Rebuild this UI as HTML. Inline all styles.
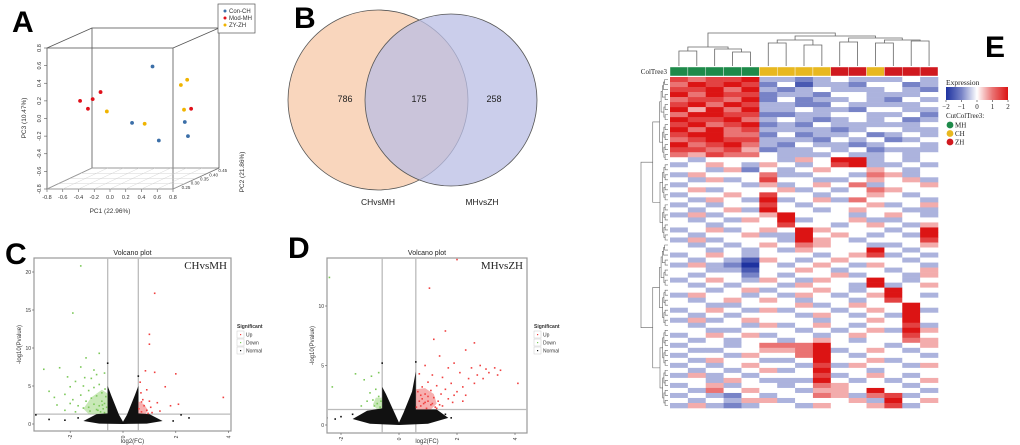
<!DOCTYPE html>
<html><head><meta charset="utf-8"><style>
html,body{margin:0;padding:0;background:#fff;}
svg{display:block;font-family:"Liberation Sans",sans-serif;}
.serif{font-family:"Liberation Serif",serif;}
</style></head><body>
<svg id="fig" width="1020" height="445" viewBox="0 0 1020 445" xmlns="http://www.w3.org/2000/svg">
<text x="12" y="32" font-size="30" font-weight="bold">A</text>
<text x="294" y="28" font-size="30" font-weight="bold">B</text>
<text x="5" y="264" font-size="30" font-weight="bold">C</text>
<text x="288" y="258" font-size="30" font-weight="bold">D</text>
<text x="985" y="57" font-size="30" font-weight="bold">E</text>

<g id="pca" stroke="#555" stroke-width="0.8" fill="none">
  <rect x="47" y="48" width="126" height="141"/>
  <rect x="92" y="28" width="127" height="140"/>
  <line x1="47" y1="48" x2="92" y2="28"/><line x1="173" y1="48" x2="219" y2="28"/>
  <line x1="47" y1="189" x2="92" y2="168"/><line x1="173" y1="189" x2="219" y2="168"/>
</g>
<g id="pcaAxes" font-size="5.5" fill="#333"></g>
<g id="pcaPts"></g>
<text x="110" y="213" font-size="6.5" fill="#333" text-anchor="middle">PC1 (22.96%)</text>
<text transform="translate(26,118) rotate(-90)" font-size="6.5" fill="#333" text-anchor="middle">PC3 (10.47%)</text>
<text transform="translate(244,172) rotate(-90)" font-size="6.5" fill="#333" text-anchor="middle">PC2 (21.86%)</text>
<g>
  <rect x="218" y="4" width="37" height="29" fill="#fff" stroke="#555" stroke-width="0.7"/>
  <circle cx="225" cy="11" r="1.5" fill="#3c6fa8"/><text x="229" y="13" font-size="6" fill="#333">Con-CH</text>
  <circle cx="225" cy="18" r="1.5" fill="#e0101a"/><text x="229" y="20" font-size="6" fill="#333">Mod-MH</text>
  <circle cx="225" cy="25" r="1.5" fill="#f0b400"/><text x="229" y="27" font-size="6" fill="#333">ZY-ZH</text>
</g>

<g>
  <circle cx="378" cy="100" r="90" fill="#f8cfb2" fill-opacity="0.85" stroke="#555" stroke-width="0.8"/>
  <circle cx="451" cy="100" r="86" fill="#b9bde4" fill-opacity="0.75" stroke="#555" stroke-width="0.8"/>
  <text x="345" y="102" font-size="9" text-anchor="middle" fill="#222">786</text>
  <text x="419" y="102" font-size="9" text-anchor="middle" fill="#222">175</text>
  <text x="494" y="102" font-size="9" text-anchor="middle" fill="#222">258</text>
  <text x="378" y="205" font-size="8.5" text-anchor="middle" fill="#222">CHvsMH</text>
  <text x="482" y="205" font-size="8.5" text-anchor="middle" fill="#222">MHvsZH</text>
</g>

<g id="volC"></g>
<g id="volD"></g>
<g id="heat"></g>
</svg>
<script>
const pcaBlueX=[0.54,0.28,0.62,0.95,0.99];
const pcaBlueY=[0.59,-0.05,-0.25,-0.04,-0.20];
const pcaRedX=[-0.38,-0.28,-0.22,-0.12,1.03];
const pcaRedY=[0.20,0.11,0.22,0.30,0.11];
const pcaYelX=[-0.04,0.44,0.98,0.90,0.94];
const pcaYelY=[0.08,-0.06,0.44,0.38,0.10];
const pcaYTicks=["0.8","0.6","0.4","0.2","0.0","-0.2","-0.4","-0.6","-0.8"];
const pcaXTicks=["-0.8","-0.6","-0.4","-0.2","0.0","0.2","0.4","0.6","0.8"];
const pcaZTicks=["0.25","0.30","0.35","0.40","0.45"];

const cDownX=[-3.0,-2.8,-2.6,-2.4,-2.2,-2.0,-2.0,-1.9,-1.8,-1.7,-1.6,-1.6,-1.5,-1.5,-1.4,-1.4,-1.3,-1.3,-1.2,-1.2,-1.1,-1.1,-1.0,-1.0,-1.0,-0.9,-0.9,-0.9,-0.85,-0.8,-0.8,-0.75,-0.7,-0.7,-0.7,-0.65,-0.62,-2.2,-1.8,-2.5,-1.9,-1.6,-1.1,-0.95,-1.25,-0.78,-0.68,-1.45,-2.1];
const cDownY=[7.2,4.3,3.5,7.4,3.9,2.7,4.9,3.2,5.6,2.4,7.5,3.8,2.1,5.0,8.7,3.0,4.4,2.2,6.0,3.4,2.6,4.8,1.9,3.7,6.5,9.3,2.4,5.2,1.6,3.0,4.1,2.0,6.7,2.7,1.5,3.6,2.2,1.8,1.6,2.5,14.6,20.8,7.1,1.8,1.7,2.5,4.6,6.1,6.2];
const cUpX=[0.6,0.65,0.7,0.75,0.8,0.85,0.9,0.9,1.0,1.0,1.0,1.05,1.1,1.2,1.2,1.3,1.4,1.6,1.8,2.0,2.1,0.7,0.95,0.68,3.8];
const cUpY=[2.0,5.5,1.6,3.2,2.4,7.0,1.8,4.5,3.0,10.5,11.8,2.2,1.5,6.8,17.2,2.8,1.7,4.9,2.4,6.6,2.6,2.9,1.4,4.1,3.5];
const cNormX=[-3.3,-2.2,-1.7,2.5,2.2,-0.58,0.58,-2.8,1.9];
const cNormY=[1.2,0.5,0.8,0.8,1.2,8.0,6.3,0.6,0.4];
const cEnvX=[-1.5,-1.0,-0.58,-0.58,-0.45,-0.15,0,0.15,0.45,0.58,0.58,1.0,1.5,0.9,0,-0.9];
const cEnvY=[0.4,1.3,1.4,5.0,3.8,1.2,0.3,1.2,3.8,5.0,1.4,1.3,0.4,0.05,0,0.05];
const cGreenEnvX=[-0.58,-0.58,-0.8,-1.2,-1.5,-1.3];
const cGreenEnvY=[1.3,4.0,4.5,3.5,2.0,1.3];
const cRedEnvX=[0.58,0.58,0.8,0.95,0.85];
const cRedEnvY=[1.3,3.0,2.6,1.8,1.3];
const cXTicks=[-2,0,2,4];
const cYTicks=[0,5,10,15,20];

const dDownX=[-2.4,-2.3,-1.5,-1.2,-1.0,-0.9,-0.85,-0.8,-0.75,-0.7,-0.65,-0.62,-1.1,-0.95,-1.3,-0.7];
const dDownY=[12.4,3.2,4.3,3.8,2.7,2.1,1.6,3.0,1.8,2.4,1.5,2.0,2.0,4.1,1.6,4.4];
const dUpX=[0.6,0.65,0.7,0.7,0.75,0.8,0.8,0.85,0.9,0.9,0.95,1.0,1.0,1.05,1.1,1.1,1.15,1.2,1.2,1.25,1.3,1.35,1.4,1.45,1.5,1.5,1.6,1.6,1.7,1.7,1.8,1.85,1.9,2.0,2.0,2.1,2.2,2.3,2.3,2.4,2.5,2.6,2.6,2.7,2.8,2.9,3.0,3.1,3.3,3.4,3.5,4.1,1.3,0.9,1.0,1.15,0.75,1.4,2.2,1.9];
const dUpY=[1.5,2.8,2.0,4.3,1.6,3.2,2.2,1.8,2.6,5.0,1.4,3.6,2.0,11.5,1.7,2.9,4.2,2.3,7.2,1.5,3.3,2.0,5.8,2.6,4.0,1.6,3.0,7.9,2.2,4.8,3.5,1.9,5.2,13.9,2.8,4.4,3.2,6.3,2.5,3.9,4.8,3.5,6.9,4.2,5.0,3.9,4.7,4.4,4.8,4.2,4.6,3.5,1.4,1.9,2.4,1.8,2.5,1.7,2.0,2.5];
const dNormX=[-2.5,-2.0,-1.6,-0.58,1.8,1.6,0.58,-2.2];
const dNormY=[0.6,0.7,0.9,5.2,0.6,0.9,5.3,0.5];
const dEnvX=[-1.6,-1.1,-0.58,-0.58,-0.45,-0.15,0,0.15,0.45,0.58,0.58,1.3,1.7,1.0,0,-1.0];
const dEnvY=[0.5,1.2,1.4,3.2,2.6,1.0,0.2,1.0,2.8,4.5,1.3,1.3,0.6,0.1,0,0.1];
const dGreenEnvX=[-0.58,-0.58,-0.8,-0.9,-0.75];
const dGreenEnvY=[1.3,2.3,2.3,1.7,1.3];
const dRedEnvX=[0.58,0.58,0.9,1.2,1.3,1.1];
const dRedEnvY=[1.3,3.0,3.1,2.6,1.8,1.3];
const dXTicks=[-2,0,2,4];
const dYTicks=[0,5,10];

const heatRows=[
"767783323433343","687872413324423","778683234333432","868772332443334","677682423343243",
"786873322433334","858683343324433","688772233443342","877863432343423","786782324333334",
"868673333234433","788662423342343","678773332434234","867863243323443","776752334342333",
"657664333433434","434444354883434","345435434783343","443524345445434","354446334436534",
"435347443345453","344435345463445","453444534346544","344547443445434","435438345364443",
"343447434445345","434538443454433","353445844434543","434354834453344","443444744345435",
"345345485444348","434453384543438","353444385434447","434345465443345","443434354448434",
"345434443457343","434315434544434","353204345435443","443314454344345","434424344534435",
"345435435448434","434344354438345","443453445434844","354434354345843","434545434434744",
"443344453454484","345435344345483","434344435434384","353454443445484","434435345434473",
"443344434345385","345453443454474","434344345434465","344346668444345","433445568345434",
"344354468434443","435443348445344","343454437354435","434345348443444","353434447345434",
"443543338434345","345344346544434","436454435548443","343243446536734","434355344453845",
"353234435445734"];
const heatGroups=["MH","MH","MH","MH","MH","CH","CH","CH","CH","ZH","ZH","CH","ZH","ZH","ZH"];
const groupNames=["MH","CH","ZH"];
const colMerges=[[0,1,51],[3,4,52],[2,16,49],[15,17,47],[5,6,43],[7,8,45],[19,20,40],[9,10,42],[11,12,43],[13,14,41],[23,24,40],[22,25,38],[21,26,36],[18,27,33]];
const legendTicks=[-2,-1,0,1,2];

const NS="http://www.w3.org/2000/svg";
function mk(tag,attrs,parent){const e=document.createElementNS(NS,tag);for(const k in attrs)e.setAttribute(k,attrs[k]);parent.appendChild(e);return e;}

(function(){
  const ax=document.getElementById('pcaAxes');
  const px=v=>47+(v+0.8)/1.6*126;
  const py=v=>189-(v+0.8)/1.6*141;
  pcaYTicks.forEach(t=>{const v=parseFloat(t);const y=py(v);
    mk('line',{x1:44,y1:y,x2:47,y2:y,stroke:'#555','stroke-width':0.6},ax);
    const tx=mk('text',{transform:`translate(41,${y}) rotate(-90)`,'text-anchor':'middle'},ax);tx.textContent=t;
    
    });
  pcaXTicks.forEach(t=>{const v=parseFloat(t);const x=px(v);
    mk('line',{x1:x,y1:189,x2:x,y2:192,stroke:'#555','stroke-width':0.6},ax);
    const tx=mk('text',{x:x,y:199,'text-anchor':'middle'},ax);tx.textContent=t;
    
    
    mk('line',{x1:x,y1:189,x2:x+45,y2:168,stroke:'#ccc','stroke-width':0.4},ax);});
  for(let i=0;i<5;i++){const f=i/4;mk('line',{x1:47+45*f,y1:189-21*f,x2:173+45*f,y2:189-21*f,stroke:'#ccc','stroke-width':0.4},ax);}
  pcaZTicks.forEach((t,i)=>{const f=0.1+i*0.2;const x=173+46*f,y=189-21*f;
    const tx=mk('text',{x:x+4,y:y+2,'font-size':4.5},ax);tx.textContent=t;
    
    });
  const g=document.getElementById('pcaPts');
  [[pcaBlueX,pcaBlueY,'#3c6fa8','con-ch'],[pcaRedX,pcaRedY,'#e0101a','mod-mh'],[pcaYelX,pcaYelY,'#f0b400','zy-zh']].forEach(s=>{
    s[0].forEach((v,i)=>{const c=mk('circle',{cx:px(v),cy:py(s[1][i]),r:1.9,fill:s[2]},g);
      
      });
  });
})();

function volcano(gid,c){
  const g=document.getElementById(gid);
  const sx=v=>c.x0+v*c.kx, sy=v=>c.y0-v*c.ky;
  const fr=mk('rect',{x:c.L,y:c.T,width:c.R-c.L,height:c.B-c.T,fill:'#fff',stroke:'#999','stroke-width':1.2},g);
  
  
  const t=mk('text',{x:(c.L+c.R)/2,y:c.T-3,'font-size':7,'text-anchor':'middle',fill:'#222'},g);t.textContent='Volcano plot';
  
  
  const lab=mk('text',{x:c.R-4,y:c.T+11,'font-size':11,'text-anchor':'end',fill:'#222',class:'serif'},g);lab.textContent=c.label;
  
  
  const clip=mk('clipPath',{id:gid+'clip'},g);mk('rect',{x:c.L,y:c.T,width:c.R-c.L,height:c.B-c.T},clip);
  const pg=mk('g',{'clip-path':`url(#${gid}clip)`},g);
  [-0.58,0.58].forEach(v=>mk('line',{x1:sx(v),y1:c.T,x2:sx(v),y2:c.B,stroke:'#bbb','stroke-width':1.3},pg));
  mk('line',{x1:c.L,y1:sy(1.3),x2:c.R,y2:sy(1.3),stroke:'#bbb','stroke-width':1.3},pg);
  const poly=(xs,ys,fill,op,name)=>{const p=mk('polygon',{points:xs.map((v,i)=>sx(v)+','+sy(ys[i])).join(' '),fill:fill,'fill-opacity':op},pg);
    
    };
  poly(c.gEX,c.gEY,'#9ad57c',0.55,'down-density');
  poly(c.rEX,c.rEY,'#f27a7a',0.6,'up-density');
  poly(c.eX,c.eY,'#111',1,'normal-density');
  const pts=(xs,ys,col,name)=>xs.forEach((v,i)=>{const r=mk('rect',{x:sx(v)-0.8,y:sy(ys[i])-0.8,width:1.6,height:1.6,fill:col},pg);
    
    });
  pts(c.nX,c.nY,'#111','normal-point');
  pts(c.dX,c.dY,'#7cc85a','down-point');
  pts(c.uX,c.uY,'#f04040','up-point');
  c.xt.forEach(v=>{const x=sx(v);mk('line',{x1:x,y1:c.B,x2:x,y2:c.B+2,stroke:'#555','stroke-width':0.6},g);
    const tx=mk('text',{transform:`translate(${x+2},${c.B+6}) rotate(-90)`,'font-size':5,'text-anchor':'middle',fill:'#333'},g);tx.textContent=v;
    
    });
  c.yt.forEach(v=>{const y=sy(v);mk('line',{x1:c.L-2,y1:y,x2:c.L,y2:y,stroke:'#555','stroke-width':0.6},g);
    const tx=mk('text',{x:c.L-3,y:y+2,'font-size':5,'text-anchor':'end',fill:'#333'},g);tx.textContent=v;
    
    });
  const xl=mk('text',{x:(c.L+c.R)/2,y:443,'font-size':6,'text-anchor':'middle',fill:'#333'},g);xl.textContent='log2(FC)';
  
  
  const yl=mk('text',{transform:`translate(${c.L-13},${(c.T+c.B)/2}) rotate(-90)`,'font-size':6,'text-anchor':'middle',fill:'#333'},g);yl.textContent='-log10(Pvalue)';
  
  
  const lx=c.lx, ly=c.ly;
  const lt=mk('text',{x:lx,y:ly,'font-size':5,'font-weight':'bold',fill:'#333'},g);lt.textContent='Significant';
  
  
  [['Up','#f04040'],['Down','#7cc85a'],['Normal','#111']].forEach((e,i)=>{
    const y=ly+3+i*8;mk('rect',{x:lx,y:y,width:7,height:7,fill:'#fff',stroke:'#ccc','stroke-width':0.5},g);
    mk('rect',{x:lx+3,y:y+3,width:1.2,height:1.2,fill:e[1]},g);
    const tx=mk('text',{x:lx+9,y:y+5.5,'font-size':5,fill:'#333'},g);tx.textContent=e[0];
    
    });
}
volcano('volC',{L:34,R:231,T:258,B:431,x0:123,kx:26.4,y0:424,ky:7.6,label:'CHvsMH',
  dX:cDownX,dY:cDownY,uX:cUpX,uY:cUpY,nX:cNormX,nY:cNormY,eX:cEnvX,eY:cEnvY,gEX:cGreenEnvX,gEY:cGreenEnvY,rEX:cRedEnvX,rEY:cRedEnvY,xt:cXTicks,yt:cYTicks,lx:237,ly:328});
volcano('volD',{L:327,R:527,T:258,B:433,x0:399,kx:29,y0:425,ky:11.9,label:'MHvsZH',
  dX:dDownX,dY:dDownY,uX:dUpX,uY:dUpY,nX:dNormX,nY:dNormY,eX:dEnvX,eY:dEnvY,gEX:dGreenEnvX,gEY:dGreenEnvY,rEX:dRedEnvX,rEY:dRedEnvY,xt:dXTicks,yt:dYTicks,lx:534,ly:328});

(function(){
  const g=document.getElementById('heat');
  const X0=670,X1=938,Y0=77,Y1=408,nC=15,nR=heatRows.length;
  const cw=(X1-X0)/nC, rh=(Y1-Y0)/nR;
  function col(v){let t=(v-4)/4;
    if(t>=0){t=Math.pow(t,0.75);return `rgb(${Math.round(255-35*t)},${Math.round(255-235*t)},${Math.round(255-235*t)})`;}
    const s=Math.pow(-t,0.75);return `rgb(${Math.round(250-220*s)},${Math.round(250-200*s)},${Math.round(255-95*s)})`;}
  heatRows.forEach((row,r)=>{for(let c=0;c<nC;c++){
    const e=mk('rect',{x:X0+c*cw,y:Y0+r*rh,width:cw+0.3,height:rh+0.3,fill:col(+row[c])},g);
    
    }});
  const gc={MH:'#1e8a4a',CH:'#e8b820',ZH:'#d0191f'};
  heatGroups.forEach((gr,c)=>{const e=mk('rect',{x:X0+c*cw,y:67,width:cw,height:9,fill:gc[gr],stroke:'#fff','stroke-width':0.4},g);
    
    });
  const ct=mk('text',{x:667,y:74,'font-size':7,'text-anchor':'end',fill:'#222',class:'serif'},g);ct.textContent='ColTree3';
  
  
  const nodes=[];for(let c=0;c<nC;c++)nodes.push({x:X0+(c+0.5)*cw,y:66});
  colMerges.forEach(m=>{const a=nodes[m[0]],b=nodes[m[1]],h=m[2];
    const p=mk('path',{d:`M${a.x},${a.y}V${h}H${b.x}V${b.y}`,fill:'none',stroke:'#666','stroke-width':0.8},g);
    
    
    nodes.push({x:(a.x+b.x)/2,y:h});});
  function tree(lo,hi,depth){
    if(hi-lo<1){const y=Y0+(lo+0.5)*rh;return {y:y,x:668};}
    const mid=Math.floor((lo+hi)/2);
    const a=tree(lo,mid,depth+1),b=tree(mid+1,hi,depth+1);
    const x=Math.max(641,668-(hi-lo+1)*0.45-depth*0.4);
    const xx=Math.min(x,Math.min(a.x,b.x)-1.2);
    const p=mk('path',{d:`M${a.x},${a.y}H${xx}V${b.y}H${b.x}`,fill:'none',stroke:'#666','stroke-width':0.6},g);
    
    
    return {x:xx,y:(a.y+b.y)/2};}
  tree(0,nR-1,0);
  const lt=mk('text',{x:946,y:85,'font-size':7.5,fill:'#222',class:'serif'},g);lt.textContent='Expression';
  
  
  const defs=mk('defs',{},g);const lg=mk('linearGradient',{id:'expg',x1:0,x2:1,y1:0,y2:0},defs);
  [0,0.25,0.5,0.75,1].forEach((o,i)=>mk('stop',{offset:o,'stop-color':col(i*2)},lg));
  const bar=mk('rect',{x:946,y:87,width:62,height:13,fill:'url(#expg)'},g);
  
  
  legendTicks.forEach(v=>{const x=946+(v+2)/4*62;
    mk('line',{x1:x,y1:100,x2:x,y2:102,stroke:'#333','stroke-width':0.6},g);
    const tx=mk('text',{x:x,y:109,'font-size':7,'text-anchor':'middle',fill:'#222',class:'serif'},g);tx.textContent=v<0?'\u2212'+(-v):v;
    
    });
  const ctt=mk('text',{x:946,y:118,'font-size':7,fill:'#222',class:'serif'},g);ctt.textContent='CutColTree3:';
  
  
  groupNames.forEach((n,i)=>{const y=125+i*8.5;
    mk('circle',{cx:950,cy:y,r:3.4,fill:gc[n]},g);
    const tx=mk('text',{x:955,y:y+2.5,'font-size':7,fill:'#222',class:'serif'},g);tx.textContent=n;
    
    });
})();
</script>
</body></html>
